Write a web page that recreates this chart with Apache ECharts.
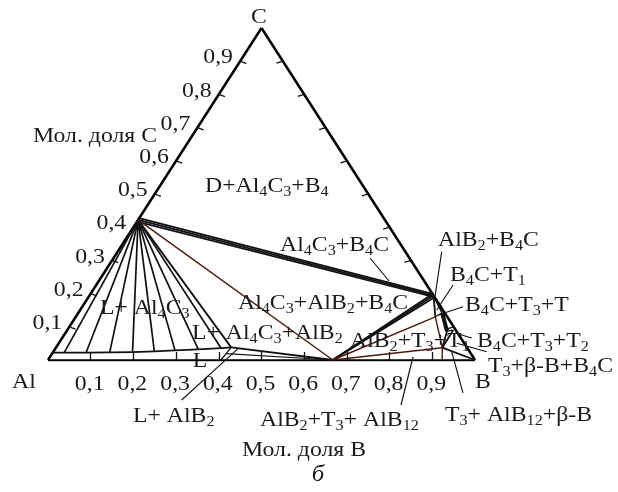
<!DOCTYPE html>
<html><head><meta charset="utf-8">
<script src="https://cdn.jsdelivr.net/npm/echarts@6/dist/echarts.min.js"></script>
<style>html,body{margin:0;padding:0;background:#fff}#c{width:618px;height:492px}</style>
</head><body><div id="c"></div><script>
// ---- data: compositions as (mole fraction B, mole fraction C) ----
const pointNames = ['Al','B','C','Al4C3','Al4C3u','Al4C3d','B4C','B4Cu','B4Cd','AlB2','AlB12','E','L0','Lt','T1','T','Tb','T2','T3'];
const pointB = [0,1,0, 0,0,0, 0.806,0.801,0.811, 0.667,0.923, 0.41,0.405,0.408, 0.842,0.852,0.891,0.904,0.905];
const pointC = [0,0,1, 0.422,0.427,0.417, 0.194,0.199,0.189, 0,0, 0.038,0,0.019, 0.13,0.142,0.087,0.09,0.037];

// liquidus curve (Al corner to eutectic-like point E), fan tie lines go from Al4C3 to these points
const liquidusB = [0, 0.027, 0.078, 0.133, 0.186, 0.236, 0.283, 0.336, 0.387, 0.41];
const liquidusC = [0.022, 0.022, 0.022, 0.023, 0.024, 0.026, 0.029, 0.032, 0.036, 0.038];

const edgeSegments = [['Al','B'],['B','C'],['C','Al']];
const boundarySegments = [['Al4C3','E'],['E','AlB2'],['Al4C3u','B4Cu'],['Al4C3','B4C'],['Al4C3d','B4Cd'],
  ['AlB2','B4Cu'],['AlB2','B4C'],['AlB2','B4Cd'],['B4C','T1'],['B4C','T'],['T3','B'],['T3','T2'],['Tb','T3']];
const thinSegments = [['E','L0'],['Lt','AlB2'],['T1','T'],['Tb','T2']];
const brownSegments = [['Al4C3','AlB2'],['AlB2','T1'],['AlB2','T3'],['T1','T3'],['T3','AlB12']];
const thickSegments = [['T','Tb']];

const tickValues = [0.1,0.2,0.3,0.4,0.5,0.6,0.7,0.8,0.9];
const tickLabels = ['0,1','0,2','0,3','0,4','0,5','0,6','0,7','0,8','0,9'];

// ---- helpers ----
function cart(b, c){ return [b + c/2, c]; }
function P(name){ const i = pointNames.indexOf(name); return cart(pointB[i], pointC[i]); }
function segs(list){ return list.map(s => ({coords: [P(s[0]), P(s[1])]})); }
function linesSeries(data, color, width, polyline){
  return {type:'lines', coordinateSystem:'cartesian2d', polyline: !!polyline, silent:true,
    lineStyle:{color:color, width:width, opacity:1}, data:data, z:2};
}
const fan = liquidusB.slice(1, 9).map((b, k) => ({coords:[P('Al4C3'), cart(b, liquidusC[k+1])]}));
const liquidus = [{coords: liquidusB.map((b, k) => cart(b, liquidusC[k]))}];
const bottomTicks = tickValues.map(v => ({coords:[cart(v,0), [v, 0.024]]}));
const leftTicks = tickValues.map(v => ({coords:[cart(0,v), cart(0.018, v-0.007)]}));
const rightTicks = tickValues.map(v => ({coords:[cart(1-v,v), cart(1-v-0.012, v-0.006)]}));

const chart = echarts.init(document.getElementById('c'), null, {renderer:'canvas'});
chart.setOption({
  animation:false,
  backgroundColor:'#fff',
  grid:{left:48, top:28, width:427, height:332},
  xAxis:{type:'value', min:0, max:1, show:false},
  yAxis:{type:'value', min:0, max:1, show:false},
  series:[
    linesSeries(segs(edgeSegments), '#000', 2.5),
    linesSeries(fan, '#111', 1.7),
    linesSeries(liquidus, '#111', 1.7, true),
    linesSeries(segs(boundarySegments), '#111', 1.8),
    linesSeries(segs(thinSegments), '#111', 1.2),
    linesSeries(segs(brownSegments), '#4a1a0c', 1.4),
    linesSeries(segs(thickSegments), '#111', 4),
    linesSeries(bottomTicks, '#111', 1.3),
    linesSeries(leftTicks, '#111', 1.3),
    linesSeries(rightTicks, '#111', 1.3)
  ]
});

// ---- text ----
const FONT = 'Liberation Serif, Times New Roman, serif';
const TXT = '#1a1a1a';
function richStr(str){
  let out = '', i = 0;
  while (i < str.length){
    if (str[i] === '_'){
      let s;
      if (str[i+1] === '{'){ const j = str.indexOf('}', i); s = str.slice(i+2, j); i = j + 1; }
      else { s = str[i+1]; i += 2; }
      out += '{s|' + s + '}';
    } else {
      let j = i; while (j < str.length && str[j] !== '_') j++;
      out += '{n|' + str.slice(i, j) + '}'; i = j;
    }
  }
  return out;
}
const rich = {
  n:{fontFamily:FONT, fontSize:22, lineHeight:28, fill:TXT, verticalAlign:'middle'},
  s:{fontFamily:FONT, fontSize:15, lineHeight:15, fill:TXT, verticalAlign:'bottom'},
  i:{fontFamily:FONT, fontSize:23, fontStyle:'italic', lineHeight:28, fill:TXT}
};
function textEl(str, x, y, align, italic){
  return {type:'text', x:x, y:y, scaleX:1.08, z:10, silent:true,
    style:{text: italic ? '{i|' + str + '}' : richStr(str), rich:rich, align:align, verticalAlign:'middle'}};
}
function lineEl(x1,y1,x2,y2){
  return {type:'line', z:9, silent:true, shape:{x1,y1,x2,y2}, style:{stroke:'#111', lineWidth:1.1}};
}
const g = [];
// tick labels positioned relative to the axis points
tickValues.forEach((v, k) => {
  const pb = chart.convertToPixel({gridIndex:0}, cart(v, 0));
  g.push(textEl(tickLabels[k], pb[0] - 1, pb[1] + 24, 'center'));
  const pl = chart.convertToPixel({gridIndex:0}, cart(0, v));
  g.push(textEl(tickLabels[k], pl[0] - 22, pl[1] - 3.5, 'center'));
});
const labels = [
  ['C', 259, 17, 'center'],
  ['Мол. доля C', 33, 136, 'left'],
  ['D+Al_4C_3+B_4', 205, 186, 'left'],
  ['Al_4C_3+B_4C', 280, 245, 'left'],
  ['AlB_2+B_4C', 438, 240, 'left'],
  ['B_4C+T_1', 450, 275, 'left'],
  ['B_4C+T_3+T', 465, 305, 'left'],
  ['B_4C+T_3+T_2', 477, 341, 'left'],
  ['T_3+β-B+B_4C', 488, 366, 'left'],
  ['B', 475, 382, 'left'],
  ['T_3+ AlB_{12}+β-B', 445, 415, 'left'],
  ['AlB_2+T_3+ AlB_{12}', 260, 420, 'left'],
  ['Мол. доля B', 242, 450, 'left'],
  ['AlB_2+T_3+T_1', 350, 341, 'left'],
  ['Al_4C_3+AlB_2+B_4C', 238, 303, 'left'],
  ['L+ Al_4C_3+AlB_2', 192, 333, 'left'],
  ['L+ Al_4C_3', 100, 308, 'left'],
  ['L', 200, 361, 'center'],
  ['L+ AlB_2', 133, 416, 'left'],
  ['Al', 12, 382, 'left']
];
labels.forEach(l => g.push(textEl(l[0], l[1], l[2], l[3])));
g.push(textEl('б', 318, 475, 'center', true));
// leader lines
[[370,258,389,281],[441.7,251.7,435,296.7],[453,285,436.7,310],[463,306.7,438.3,315],
 [471.7,338,455,333],[486.7,351.7,456.7,343.3],[463,393,451.7,351.7],[401,405,413,357],
 [181.7,400,238.3,348.3]].forEach(a => g.push(lineEl(a[0],a[1],a[2],a[3])));
chart.setOption({graphic:{elements:g}});
</script></body></html>
